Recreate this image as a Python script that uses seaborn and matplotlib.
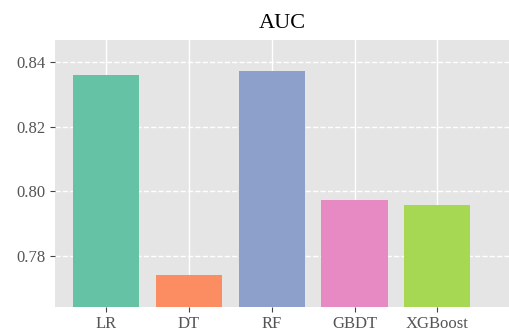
import matplotlib
matplotlib.use("Agg")
import matplotlib.pyplot as plt
import seaborn as sns
import pandas as pd

# AUC per model
models = ["LR", "DT", "RF", "GBDT", "XGBoost"]
auc = [0.8359, 0.7742, 0.8371, 0.7973, 0.7958]
yticks = [0.78, 0.80, 0.82, 0.84]

plt.style.use("ggplot")
plt.rcParams["font.family"] = ["Liberation Serif", "DejaVu Serif"]

df = pd.DataFrame({"model": models, "auc": auc})

fig = plt.figure(figsize=(5.1, 3.34), dpi=100)
ax = fig.add_axes([0.108, 0.08, 0.892, 0.80])
sns.barplot(data=df, x="model", y="auc", hue="model", palette="Set2",
            legend=False, width=0.8, saturation=1, ax=ax)

ax.set_ylim(0.7642, 0.8467)
ax.set_xlim(-0.62, 4.88)
ax.set_yticks(yticks)
ax.set_yticklabels([f"{t:.2f}" for t in yticks])
ax.set_xlabel("")
ax.set_ylabel("")
ax.set_title("AUC", fontsize=16, color="black", pad=9)
ax.tick_params(axis="both", labelsize=12, labelcolor="#555555",
               color="#444444", length=3.5)
ax.tick_params(axis="x", pad=2.5)
ax.set_axisbelow(True)
ax.yaxis.grid(True, linestyle="--", color="white", linewidth=1)
ax.xaxis.grid(True, linestyle="-", color="white", linewidth=1)
for s in ax.spines.values():
    s.set_visible(False)

fig.savefig("out.png", dpi=100)
